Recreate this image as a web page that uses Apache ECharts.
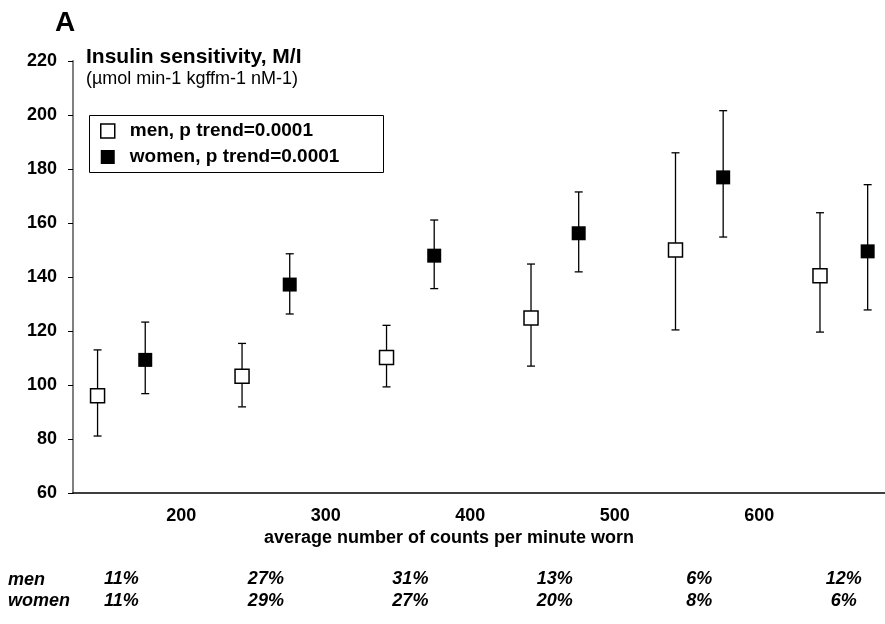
<!DOCTYPE html>
<html><head><meta charset="utf-8">
<script src="https://cdn.jsdelivr.net/npm/echarts@6/dist/echarts.min.js"></script>
<style>html,body{margin:0;padding:0;background:#fff}#c{width:885px;height:624px}</style>
</head><body><div id="c"></div>
<script>
// ---- data ----
const menX = [142, 242, 342, 442, 542, 642];
const womenX = [175, 275, 375, 475, 575, 675];
const menMean = [96.0, 103.2, 110.2, 124.8, 150.0, 140.5];
const menUpper = [113.0, 115.4, 122.1, 144.8, 186.0, 163.8];
const menLower = [81.1, 91.9, 99.3, 107.0, 120.4, 119.6];
const womenMean = [109.3, 137.2, 147.9, 156.2, 176.9, 149.5];
const womenUpper = [123.3, 148.6, 161.1, 171.5, 201.6, 174.2];
const womenLower = [96.8, 126.3, 135.7, 141.9, 154.8, 127.8];
const xTickLabels = [200, 300, 400, 500, 600];
const menPct = ['11%', '27%', '31%', '13%', '6%', '12%'];
const womenPct = ['11%', '29%', '27%', '20%', '8%', '6%'];
const menName = 'men, p trend=0.0001';
const womenName = 'women, p trend=0.0001';

const FF = '"Liberation Sans", Arial, sans-serif';

function errRender(params, api) {
  const x = api.value(0), lo = api.value(1), hi = api.value(2);
  const a = api.coord([x, hi]), b = api.coord([x, lo]);
  const hw = 4;
  const st = { stroke: '#000', lineWidth: 1.3 };
  return { type: 'group', children: [
    { type: 'line', shape: { x1: a[0], y1: a[1], x2: b[0], y2: b[1] }, style: st },
    { type: 'line', shape: { x1: a[0] - hw, y1: a[1], x2: a[0] + hw, y2: a[1] }, style: st },
    { type: 'line', shape: { x1: b[0] - hw, y1: b[1], x2: b[0] + hw, y2: b[1] }, style: st }
  ]};
}

function pctRender(params, api) {
  const c = api.coord([api.value(0), api.value(1)]);
  const i = api.value(2);
  const f = 'italic bold 18px ' + FF;
  return { type: 'group', children: [
    { type: 'text', style: { text: menPct[i], x: c[0], y: c[1] + 86.5, align: 'center', verticalAlign: 'middle', font: f, fill: '#000' } },
    { type: 'text', style: { text: womenPct[i], x: c[0], y: c[1] + 108, align: 'center', verticalAlign: 'middle', font: f, fill: '#000' } }
  ]};
}

const chart = echarts.init(document.getElementById('c'), null, { renderer: 'canvas' });
chart.setOption({
  animation: false,
  backgroundColor: '#fff',
  grid: { left: 73, right: 0, top: 61, bottom: 131, containLabel: false },
  xAxis: {
    type: 'value', min: 125, max: 687,
    axisLine: { show: true, onZero: false, lineStyle: { color: '#000', width: 1.5 } },
    axisTick: { show: false },
    splitLine: { show: false },
    axisLabel: { customValues: xTickLabels, fontSize: 18, fontWeight: 'bold', fontFamily: FF, color: '#000', margin: 14 }
  },
  yAxis: {
    type: 'value', min: 60, max: 220, interval: 20,
    axisLine: { show: true, lineStyle: { color: '#808080', width: 2 } },
    axisTick: { show: true, length: 5, lineStyle: { color: '#000', width: 1 } },
    splitLine: { show: false },
    axisLabel: { fontSize: 18, fontWeight: 'bold', fontFamily: FF, color: '#000', margin: 16 }
  },
  legend: {
    orient: 'vertical', left: 89, top: 115,
    padding: [5, 0, 4, 11], itemGap: 4, itemWidth: 14, itemHeight: 14,
    textStyle: { fontSize: 19, fontWeight: 'bold', fontFamily: FF, color: '#000', lineHeight: 22, padding: [0, 0, 0, 10] },
    data: [
      { name: menName, icon: 'rect', itemStyle: { color: '#fff', borderColor: '#000', borderWidth: 1.5 } },
      { name: womenName, icon: 'rect', itemStyle: { color: '#000', borderWidth: 0 } }
    ],
    selectedMode: false
  },
  graphic: [
    { type: 'rect', shape: { x: 89.5, y: 115.5, width: 294, height: 57 }, style: { fill: 'none', stroke: '#000', lineWidth: 1 }, z: 1 },
    { type: 'text', style: { text: 'A', x: 55, y: 23, verticalAlign: 'middle', font: 'bold 28px ' + FF, fill: '#000' } },
    { type: 'text', style: { text: 'Insulin sensitivity, M/I', x: 86, y: 57.5, verticalAlign: 'middle', font: 'bold 21px ' + FF, fill: '#000' } },
    { type: 'text', style: { text: '(µmol min-1 kgffm-1 nM-1)', x: 86, y: 79.5, verticalAlign: 'middle', font: '18px ' + FF, fill: '#000' } },
    { type: 'text', style: { text: 'average number of counts per minute worn', x: 264, y: 537.6, verticalAlign: 'middle', font: 'bold 18px ' + FF, fill: '#000' } },
    { type: 'text', style: { text: 'men', x: 8, y: 580, verticalAlign: 'middle', font: 'italic bold 18px ' + FF, fill: '#000' } },
    { type: 'text', style: { text: 'women', x: 8, y: 601, verticalAlign: 'middle', font: 'italic bold 18px ' + FF, fill: '#000' } }
  ],
  series: [
    { type: 'custom', name: 'menErr', renderItem: errRender, encode: { x: 0, y: [1, 2] }, z: 2, silent: true,
      data: menX.map((x, i) => [x, menLower[i], menUpper[i]]) },
    { type: 'custom', name: 'womenErr', renderItem: errRender, encode: { x: 0, y: [1, 2] }, z: 2, silent: true,
      data: womenX.map((x, i) => [x, womenLower[i], womenUpper[i]]) },
    { type: 'scatter', name: menName, symbol: 'rect', symbolSize: 14, z: 3,
      itemStyle: { color: '#fff', borderColor: '#000', borderWidth: 1.5, opacity: 1 },
      data: menX.map((x, i) => [x, menMean[i]]) },
    { type: 'scatter', name: womenName, symbol: 'rect', symbolSize: 14, z: 3,
      itemStyle: { color: '#000', opacity: 1 },
      data: womenX.map((x, i) => [x, womenMean[i]]) },
    { type: 'custom', name: 'pctTable', renderItem: pctRender, clip: false, silent: true, encode: { x: 0, y: 1 },
      data: menX.map((x, i) => [(x + womenX[i]) / 2, 60, i]) }
  ]
});
</script></body></html>
